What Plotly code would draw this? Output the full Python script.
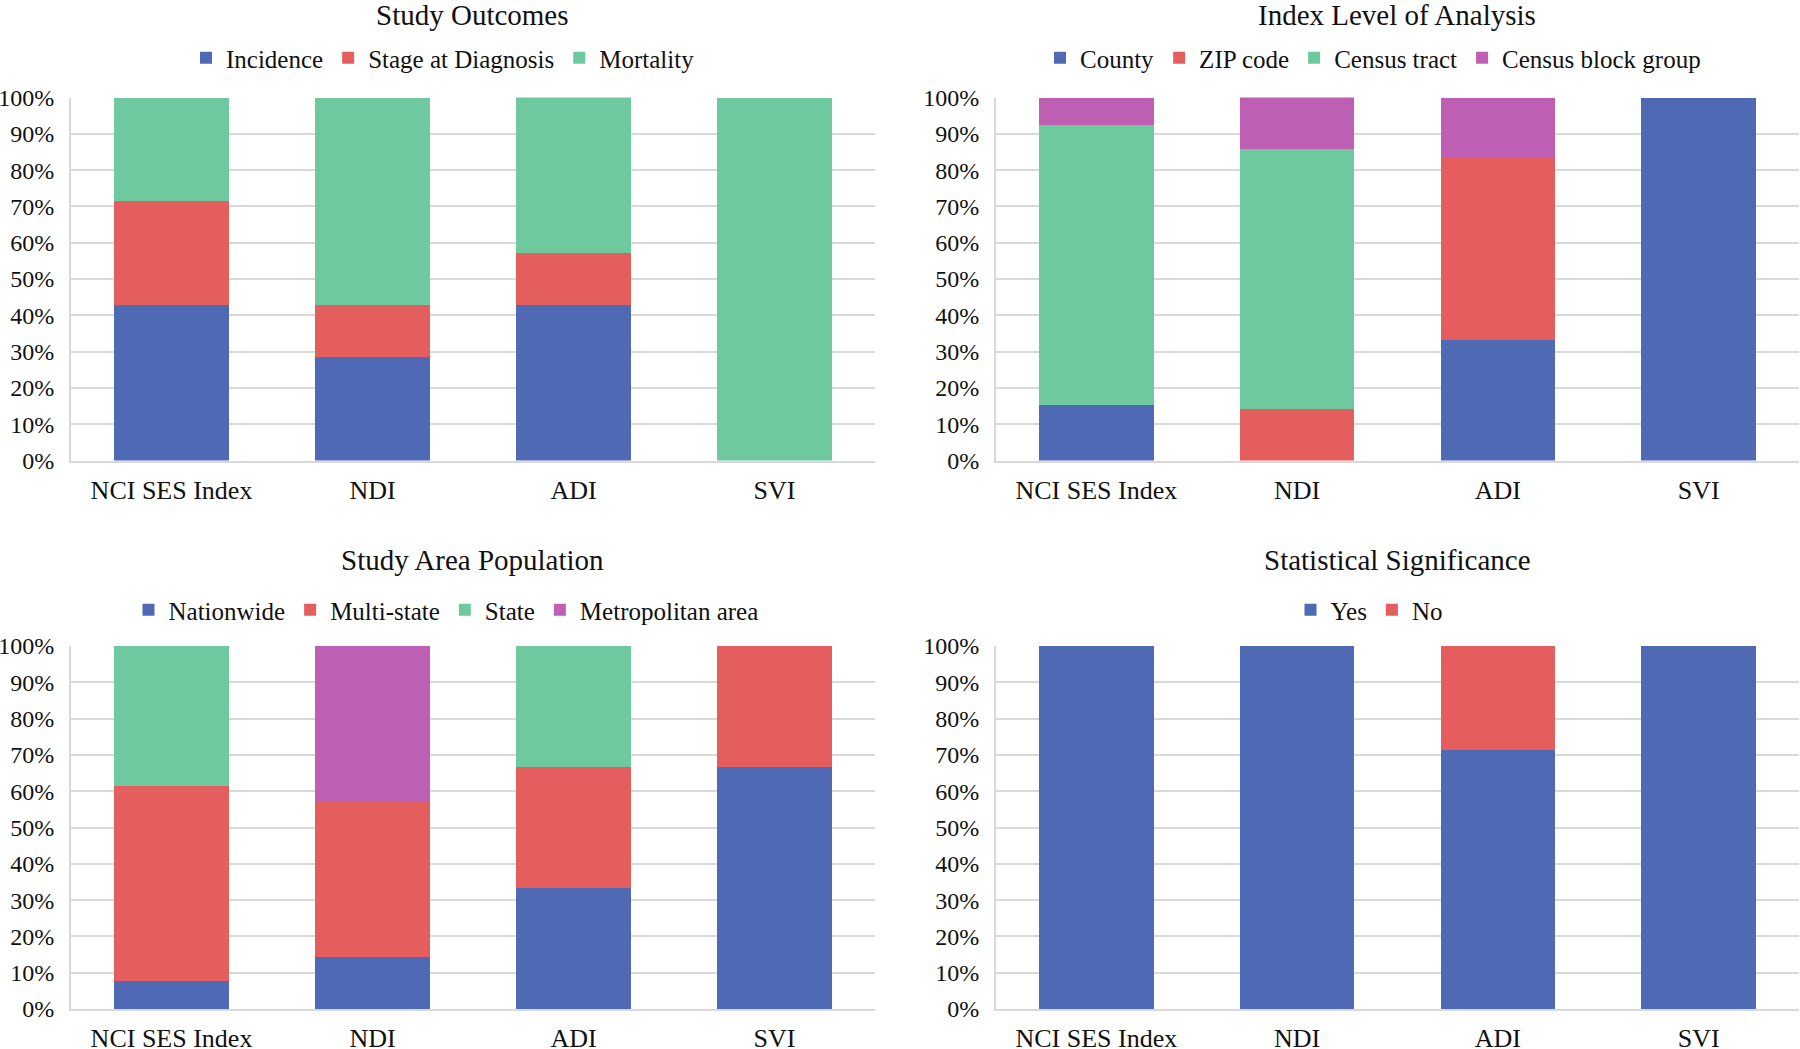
import plotly.graph_objects as go

categories = ["NCI SES Index", "NDI", "ADI", "SVI"]

# Study Outcomes (%)
outcome_names = ["Incidence", "Stage at Diagnosis", "Mortality"]
outcome_vals = [
    [42.86, 28.57, 42.86, 0],
    [28.57, 14.29, 14.29, 0],
    [28.57, 57.14, 42.86, 100],
]

# Index Level of Analysis (%)
level_names = ["County", "ZIP code", "Census tract", "Census block group"]
level_vals = [
    [15.38, 0, 33.33, 100],
    [0, 14.29, 50.0, 0],
    [76.92, 71.43, 0, 0],
    [7.69, 14.29, 16.67, 0],
]

# Study Area Population (%)
area_names = ["Nationwide", "Multi-state", "State", "Metropolitan area"]
area_vals = [
    [7.69, 14.29, 33.33, 66.67],
    [53.85, 42.86, 33.33, 33.33],
    [38.46, 0, 33.34, 0],
    [0, 42.86, 0, 0],
]

# Statistical Significance (%)
sig_names = ["Yes", "No"]
sig_vals = [
    [100, 100, 71.43, 100],
    [0, 0, 28.57, 0],
]

titles = ["Study Outcomes", "Index Level of Analysis", "Study Area Population", "Statistical Significance"]

colors = ["#5069B4", "#E45E5E", "#6FC99E", "#BE5FB4"]
FONT = "Liberation Serif"
W, H = 1800, 1049

fig = go.Figure()

panels = [
    (outcome_names, outcome_vals, "x", "y", "legend"),
    (level_names, level_vals, "x2", "y2", "legend2"),
    (area_names, area_vals, "x3", "y3", "legend3"),
    (sig_names, sig_vals, "x4", "y4", "legend4"),
]

for names, vals, xa, ya, lg in panels:
    for i, (n, v) in enumerate(zip(names, vals)):
        fig.add_trace(go.Bar(
            x=categories, y=v, name=n, xaxis=xa, yaxis=ya, legend=lg,
            marker=dict(color=colors[i], line=dict(width=0)),
            hoverinfo="x+y+name",
        ))

def px_x(v):
    return v / W

def px_y(v):
    return 1 - v / H

left_dom = [px_x(71), px_x(875)]
right_dom = [px_x(996), px_x(1799)]
top_dom = [px_y(460.5), px_y(97.5)]
bot_dom = [px_y(1009), px_y(646)]

grid = "#D9D9D9"
xcommon = dict(showgrid=False, showline=True, linecolor=grid, linewidth=2,
               tickfont=dict(family=FONT, size=26, color="#111"),
               ticks="", ticklabelstandoff=5, fixedrange=True, automargin=False)
ycommon = dict(range=[0, 100], dtick=10, ticksuffix="%", showgrid=True,
               gridcolor=grid, gridwidth=2, showline=True, linecolor=grid, linewidth=2,
               zeroline=False, tickfont=dict(family=FONT, size=24, color="#111"),
               ticks="", ticklabelstandoff=10, fixedrange=True, automargin=False)

layout = dict(
    width=W, height=H, margin=dict(l=0, r=0, t=0, b=0, autoexpand=False),
    paper_bgcolor="white", plot_bgcolor="white",
    barmode="stack", bargap=0.43,
    xaxis=dict(domain=left_dom, anchor="y", **xcommon),
    yaxis=dict(domain=top_dom, anchor="x", **ycommon),
    xaxis2=dict(domain=right_dom, anchor="y2", **xcommon),
    yaxis2=dict(domain=top_dom, anchor="x2", **ycommon),
    xaxis3=dict(domain=left_dom, anchor="y3", **xcommon),
    yaxis3=dict(domain=bot_dom, anchor="x3", **ycommon),
    xaxis4=dict(domain=right_dom, anchor="y4", **xcommon),
    yaxis4=dict(domain=bot_dom, anchor="x4", **ycommon),
    showlegend=True,
)

legend_pos = {
    "legend": (443, 58),
    "legend2": (1373, 58),
    "legend3": (446, 610),
    "legend4": (1369, 610),
}
for key, (cx, cy) in legend_pos.items():
    layout[key] = dict(
        orientation="h", x=px_x(cx), y=px_y(cy), xanchor="center", yanchor="middle",
        traceorder="normal", font=dict(family=FONT, size=25, color="#111"),
        itemwidth=30, bgcolor="rgba(0,0,0,0)", tracegroupgap=0,
    )

fig.update_layout(**layout)

title_pos = [(472, 15), (1397, 15), (472, 560), (1397, 560)]
for t, (cx, cy) in zip(titles, title_pos):
    fig.add_annotation(text=t, x=px_x(cx), y=px_y(cy), xref="paper", yref="paper",
                       xanchor="center", yanchor="middle", showarrow=False,
                       font=dict(family=FONT, size=29, color="#111"))

fig.write_html(
    "out.html",
    config={"displayModeBar": False},
    post_script="document.body.style.margin='0';document.body.style.overflow='hidden';",
)
